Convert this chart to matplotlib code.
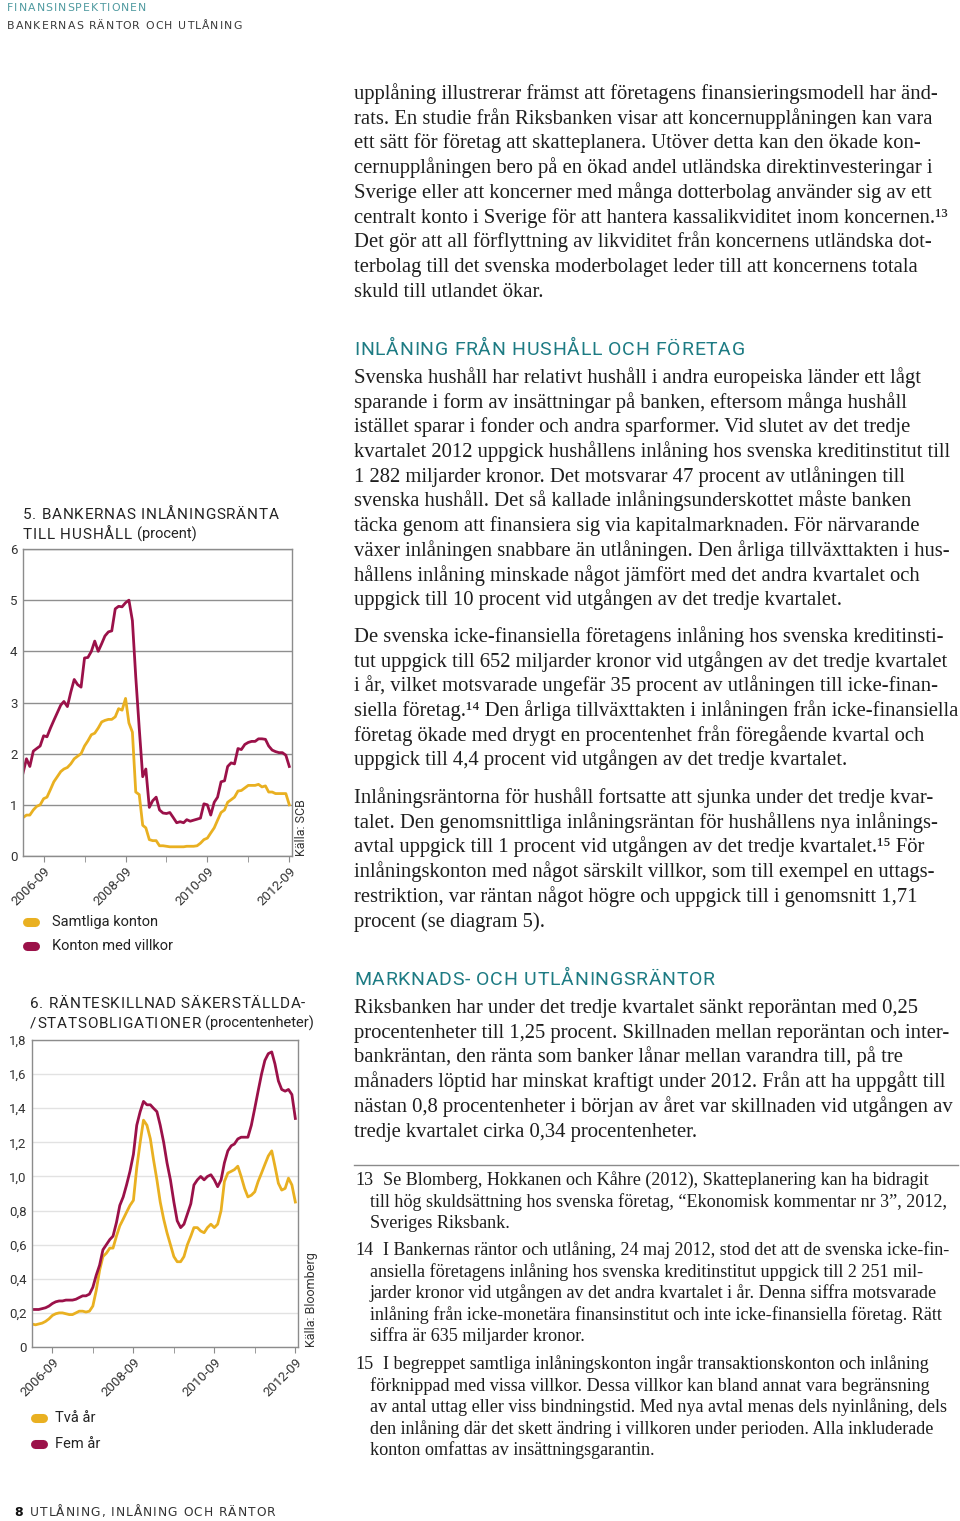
import numpy as np
import pandas as pd
import matplotlib
matplotlib.use("Agg")
import matplotlib.pyplot as plt
from matplotlib.lines import Line2D
from matplotlib.font_manager import FontProperties, findfont
from matplotlib import ft2font

W, H = 960, 1521

# ---- data (monthly 2006-03 .. 2012-09) ----
months = pd.date_range("2006-03-01", periods=79, freq="MS")

samtliga_konton = [
    0.75, 0.80, 0.80, 0.90, 0.97, 1.00, 1.12, 1.15, 1.30, 1.45,
    1.55, 1.65, 1.70, 1.73, 1.80, 1.90, 1.95, 2.00, 2.15, 2.25,
    2.37, 2.40, 2.50, 2.62, 2.65, 2.67, 2.67, 2.72, 2.88, 2.85,
    3.08, 2.60, 2.42, 1.25, 1.20, 0.60, 0.55, 0.32, 0.30, 0.30,
    0.20, 0.20, 0.19, 0.18, 0.18, 0.18, 0.18, 0.18, 0.19, 0.19,
    0.19, 0.20, 0.25, 0.32, 0.35, 0.45, 0.55, 0.70, 0.85, 0.90,
    1.05, 1.10, 1.15, 1.27, 1.28, 1.33, 1.38, 1.38, 1.38, 1.40,
    1.35, 1.37, 1.25, 1.25, 1.22, 1.22, 1.22, 1.22, 1.00,
]
konton_med_villkor = [
    1.62, 1.90, 1.75, 2.05, 2.10, 2.15, 2.35, 2.33, 2.50, 2.65,
    2.80, 2.95, 3.02, 2.92, 3.20, 3.45, 3.35, 3.30, 3.87, 3.88,
    4.00, 4.20, 4.00, 4.15, 4.30, 4.38, 4.40, 4.83, 4.88, 4.87,
    4.95, 5.00, 4.60, 3.50, 2.50, 1.55, 1.70, 0.95, 1.08, 1.15,
    0.90, 0.84, 0.83, 0.85, 0.75, 0.65, 0.67, 0.65, 0.71, 0.68,
    0.70, 0.72, 0.74, 1.02, 1.00, 0.80, 1.05, 1.15, 1.45, 1.47,
    1.75, 1.82, 1.80, 2.10, 2.08, 2.18, 2.22, 2.24, 2.24, 2.29,
    2.29, 2.28, 2.15, 2.07, 2.04, 2.02, 2.02, 1.97, 1.75,
]

tva_ar = [
    0.135, 0.130, 0.135, 0.140, 0.150, 0.165, 0.185, 0.195, 0.200, 0.200,
    0.195, 0.190, 0.190, 0.200, 0.210, 0.210, 0.205, 0.210, 0.240, 0.330,
    0.450, 0.530, 0.550, 0.580, 0.580, 0.650, 0.710, 0.750, 0.790, 0.830,
    0.860, 1.050, 1.200, 1.330, 1.300, 1.220, 1.100, 0.980, 0.850, 0.750,
    0.670, 0.600, 0.530, 0.500, 0.500, 0.530, 0.600, 0.650, 0.700, 0.700,
    0.680, 0.670, 0.700, 0.720, 0.700, 0.720, 0.800, 0.970, 1.020, 1.030,
    1.040, 1.060, 1.000, 0.930, 0.880, 0.890, 0.910, 0.970, 1.020, 1.070,
    1.120, 1.150, 1.060, 0.960, 0.920, 0.930, 0.990, 0.950, 0.850,
]
fem_ar = [
    0.220, 0.220, 0.220, 0.225, 0.230, 0.240, 0.255, 0.265, 0.270, 0.270,
    0.275, 0.275, 0.275, 0.280, 0.290, 0.300, 0.300, 0.310, 0.350, 0.420,
    0.480, 0.570, 0.600, 0.630, 0.650, 0.730, 0.830, 0.880, 0.950, 1.030,
    1.130, 1.300, 1.380, 1.440, 1.420, 1.420, 1.400, 1.380, 1.300, 1.200,
    1.080, 0.980, 0.850, 0.740, 0.700, 0.720, 0.780, 0.840, 0.950, 0.980,
    1.000, 0.980, 1.000, 1.010, 0.980, 0.940, 0.980, 1.080, 1.150, 1.180,
    1.190, 1.220, 1.230, 1.230, 1.230, 1.300, 1.400, 1.500, 1.600, 1.680,
    1.720, 1.730, 1.660, 1.560, 1.510, 1.500, 1.510, 1.480, 1.340,
]

tick_dates = pd.to_datetime(["2006-09-01", "2008-09-01", "2010-09-01", "2012-09-01"])
minor_dates = pd.to_datetime(["2007-09-01", "2009-09-01", "2011-09-01"])
tick_labels = ["2006-09", "2008-09", "2010-09", "2012-09"]

YELLOW = "#e9b021"
RED = "#9b1149"
TEAL = "#1d7b83"
INK = "#262626"

SERIF = ["Liberation Serif", "DejaVu Serif"]
SANS = ["Roboto", "DejaVu Sans"]

try:
    NO_HINT = ft2font.LoadFlags.NO_HINTING
except AttributeError:
    NO_HINT = ft2font.LOAD_NO_HINTING

fig = plt.figure(figsize=(W / 100, H / 100), dpi=100)
fig.patch.set_facecolor("white")


def fx(x):
    return x / W


def fy(y):
    return 1 - y / H


def txt(x, y, s, **kw):
    kw.setdefault("va", "baseline")
    kw.setdefault("ha", "left")
    kw.setdefault("color", INK)
    return fig.text(fx(x), fy(y), s, **kw)


def glyph_advances(s, family, size):
    # unhinted pen advances in pixels (100 dpi)
    font = ft2font.FT2Font(findfont(FontProperties(family=family)))
    font.set_size(size, 100)
    return [font.load_char(ord(ch), flags=NO_HINT).linearHoriAdvance / 65536 for ch in s]


def tracked(x, y, s, track, family, size, **kw):
    # letter-spaced caps, placed glyph by glyph
    pen = x
    for ch, adv in zip(s, glyph_advances(s, family, size)):
        if ch != " ":
            txt(pen, y, ch, family=family, fontsize=size, **kw)
        pen += adv + track
    return pen


def make_axes(x0, y0, x1, y1):
    return fig.add_axes([fx(x0), fy(y1), (x1 - x0) / W, (y1 - y0) / H])


def style_chart(ax, grid_color, yticks, ylabels, ymax):
    ax.set_ylim(0, ymax)
    ax.set_xlim(pd.Timestamp("2006-03-01"), pd.Timestamp("2012-09-25"))
    ax.set_yticks(yticks)
    ax.set_yticklabels(ylabels, family=SANS, fontsize=9.5, color="#333333")
    ax.yaxis.grid(True, color=grid_color, lw=1.0)
    ax.set_axisbelow(True)
    for side in ("left", "bottom", "right", "top"):
        ax.spines[side].set_color("#8c8c8c")
        ax.spines[side].set_linewidth(1.0)
    ax.set_xticks(tick_dates)
    ax.set_xticks(minor_dates, minor=True)
    ax.set_xticklabels(tick_labels, rotation=45, ha="right", rotation_mode="anchor",
                       family=SANS, fontsize=9.5, color="#333333")
    ax.tick_params(axis="y", length=0, pad=4)
    ax.tick_params(axis="x", which="both", length=4, color="#8c8c8c", direction="out", pad=2)


# ---- header ----
tracked(7, 11, "FINANSINSPEKTIONEN", 1.1, "DejaVu Sans", 7.8, color="#4f9aa0")
tracked(7, 29, "BANKERNAS RÄNTOR OCH UTLÅNING", 1.1, "DejaVu Sans", 7.8, color="#3a3a3a")

# ---- body text (right column) ----
body_kw = dict(family=SERIF, fontsize=14.9, color="#1e1e1e")
X_BODY = 354

para1 = [
    "upplåning illustrerar främst att företagens finansieringsmodell har änd-",
    "rats. En studie från Riksbanken visar att koncernupplåningen kan vara",
    "ett sätt för företag att skatteplanera. Utöver detta kan den ökade kon-",
    "cernupplåningen bero på en ökad andel utländska direktinvesteringar i",
    "Sverige eller att koncerner med många dotterbolag använder sig av ett",
    "centralt konto i Sverige för att hantera kassalikviditet inom koncernen.¹³",
    "Det gör att all förflyttning av likviditet från koncernens utländska dot-",
    "terbolag till det svenska moderbolaget leder till att koncernens totala",
    "skuld till utlandet ökar.",
]
para2 = [
    "Svenska hushåll har relativt hushåll i andra europeiska länder ett lågt",
    "sparande i form av insättningar på banken, eftersom många hushåll",
    "istället sparar i fonder och andra sparformer. Vid slutet av det tredje",
    "kvartalet 2012 uppgick hushållens inlåning hos svenska kreditinstitut till",
    "1 282 miljarder kronor. Det motsvarar 47 procent av utlåningen till",
    "svenska hushåll. Det så kallade inlåningsunderskottet måste banken",
    "täcka genom att finansiera sig via kapitalmarknaden. För närvarande",
    "växer inlåningen snabbare än utlåningen. Den årliga tillväxttakten i hus-",
    "hållens inlåning minskade något jämfört med det andra kvartalet och",
    "uppgick till 10 procent vid utgången av det tredje kvartalet.",
]
para3 = [
    "De svenska icke-finansiella företagens inlåning hos svenska kreditinsti-",
    "tut uppgick till 652 miljarder kronor vid utgången av det tredje kvartalet",
    "i år, vilket motsvarade ungefär 35 procent av utlåningen till icke-finan-",
    "siella företag.¹⁴ Den årliga tillväxttakten i inlåningen från icke-finansiella",
    "företag ökade med drygt en procentenhet från föregående kvartal och",
    "uppgick till 4,4 procent vid utgången av det tredje kvartalet.",
]
para4 = [
    "Inlåningsräntorna för hushåll fortsatte att sjunka under det tredje kvar-",
    "talet. Den genomsnittliga inlåningsräntan för hushållens nya inlånings-",
    "avtal uppgick till 1 procent vid utgången av det tredje kvartalet.¹⁵ För",
    "inlåningskonton med något särskilt villkor, som till exempel en uttags-",
    "restriktion, var räntan något högre och uppgick till i genomsnitt 1,71",
    "procent (se diagram 5).",
]
para5 = [
    "Riksbanken har under det tredje kvartalet sänkt reporäntan med 0,25",
    "procentenheter till 1,25 procent. Skillnaden mellan reporäntan och inter-",
    "bankräntan, den ränta som banker lånar mellan varandra till, på tre",
    "månaders löptid har minskat kraftigt under 2012. Från att ha uppgått till",
    "nästan 0,8 procentenheter i början av året var skillnaden vid utgången av",
    "tredje kvartalet cirka 0,34 procentenheter.",
]

LEAD = 24.7
for start, lines in [(99, para1), (383, para2), (642, para3), (803, para4), (1013, para5)]:
    for i, line in enumerate(lines):
        txt(X_BODY, start + i * LEAD, line, **body_kw)

tracked(X_BODY, 355, "INLÅNING FRÅN HUSHÅLL OCH FÖRETAG", 0.7, "Roboto", 14, color=TEAL)
tracked(X_BODY, 985, "MARKNADS- OCH UTLÅNINGSRÄNTOR", 0.7, "Roboto", 14, color=TEAL)

# footnote rule
fig.add_artist(Line2D([fx(354), fx(958)], [fy(1165), fy(1165)], color="#8a8a8a", lw=1.0,
                      transform=fig.transFigure))

foot_kw = dict(family=SERIF, fontsize=13.1, color="#1e1e1e")
notes = [
    ("13", 1185, [
        "Se Blomberg, Hokkanen och Kåhre (2012), Skatteplanering kan ha bidragit",
        "till hög skuldsättning hos svenska företag, “Ekonomisk kommentar nr 3”, 2012,",
        "Sveriges Riksbank.",
    ]),
    ("14", 1255, [
        "I Bankernas räntor och utlåning, 24 maj 2012, stod det att de svenska icke-fin-",
        "ansiella företagens inlåning hos svenska kreditinstitut uppgick till 2 251 mil-",
        "jarder kronor vid utgången av det andra kvartalet i år. Denna siffra motsvarade",
        "inlåning från icke-monetära finansinstitut och inte icke-finansiella företag. Rätt",
        "siffra är 635 miljarder kronor.",
    ]),
    ("15", 1369, [
        "I begreppet samtliga inlåningskonton ingår transaktionskonton och inlåning",
        "förknippad med vissa villkor. Dessa villkor kan bland annat vara begränsning",
        "av antal uttag eller viss bindningstid. Med nya avtal menas dels nyinlåning, dels",
        "den inlåning där det skett ändring i villkoren under perioden. Alla inkluderade",
        "konton omfattas av insättningsgarantin.",
    ]),
]
for num, y0, lines in notes:
    txt(355, y0, num, **foot_kw)
    for i, line in enumerate(lines):
        txt(383 if i == 0 else 370, y0 + i * 21.6, line, **foot_kw)

# ---- chart 5 ----
TITLE_TRACK = 0.75
tracked(23, 519, "5. BANKERNAS INLÅNINGSRÄNTA", TITLE_TRACK, "Roboto", 11, color="#222222")
end = tracked(23, 539, "TILL HUSHÅLL", TITLE_TRACK, "Roboto", 11, color="#222222")
txt(end + 4, 539, "(procent)", family=SANS, fontsize=10.5, color="#222222")

ax5 = make_axes(23, 549, 292, 856)
ax5.plot(months, samtliga_konton, color=YELLOW, lw=2.0, label="Samtliga konton")
ax5.plot(months, konton_med_villkor, color=RED, lw=2.0, label="Konton med villkor")
style_chart(ax5, "#8f8f8f", range(0, 7), [str(v) for v in range(0, 7)], 6)
ax5.text(1.035, 0.0, "Källa: SCB", transform=ax5.transAxes, rotation=90,
         ha="center", va="bottom", family=SANS, fontsize=9, color="#333333")

for y, col, lab in [(922, YELLOW, "Samtliga konton"), (946, RED, "Konton med villkor")]:
    fig.add_artist(Line2D([fx(27), fx(35)], [fy(y), fy(y)], color=col, lw=6.5,
                          solid_capstyle="round", transform=fig.transFigure))
    txt(52, y, lab, va="center", family=SANS, fontsize=10.5, color="#222222")

# ---- chart 6 ----
tracked(30, 1008, "6. RÄNTESKILLNAD SÄKERSTÄLLDA-", TITLE_TRACK, "Roboto", 11, color="#222222")
end = tracked(30, 1028, "/STATSOBLIGATIONER", TITLE_TRACK, "Roboto", 11, color="#222222")
txt(end + 4, 1028, "(procentenheter)", family=SANS, fontsize=10.5, color="#222222")

ax6 = make_axes(32, 1040, 298, 1347)
ax6.plot(months, tva_ar, color=YELLOW, lw=2.0, label="Två år")
ax6.plot(months, fem_ar, color=RED, lw=2.0, label="Fem år")
y6 = np.round(np.arange(0, 1.81, 0.2), 1)
y6_labels = ["0"] + [f"{v:.1f}".replace(".", ",") for v in y6[1:]]
style_chart(ax6, "#e2e2e2", y6, y6_labels, 1.8)
ax6.text(1.05, 0.0, "Källa: Bloomberg", transform=ax6.transAxes, rotation=90,
         ha="center", va="bottom", family=SANS, fontsize=9, color="#333333")

for y, col, lab in [(1418, YELLOW, "Två år"), (1444, RED, "Fem år")]:
    fig.add_artist(Line2D([fx(35), fx(43)], [fy(y), fy(y)], color=col, lw=6.5,
                          solid_capstyle="round", transform=fig.transFigure))
    txt(55, y, lab, va="center", family=SANS, fontsize=10.5, color="#222222")

# ---- footer ----
txt(14, 1516, "8", family="DejaVu Sans", fontsize=9, weight="bold", color="#111111")
tracked(30, 1516, "UTLÅNING, INLÅNING OCH RÄNTOR", 1.0, "DejaVu Sans", 8.8, color="#333333")

fig.savefig("out.png", dpi=100, facecolor="white")
